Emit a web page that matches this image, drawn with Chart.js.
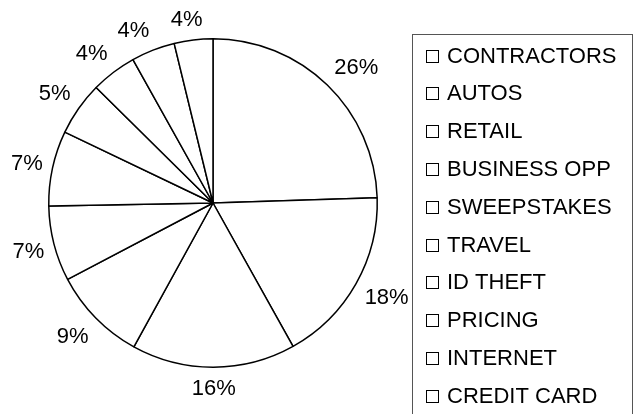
<!DOCTYPE html>
<html>
<head>
<meta charset="utf-8">
<script src="https://cdn.jsdelivr.net/npm/chart.js@4"></script>
<style>
  html, body { margin: 0; padding: 0; background: #fff; }
  #wrap { width: 641px; height: 414px; position: relative; }
</style>
</head>
<body>
<div id="wrap"><canvas id="chartPie"></canvas></div>
<script>
// categorias e valores (sentido horário a partir do topo)
const categories = ['CONTRACTORS', 'AUTOS', 'RETAIL', 'BUSINESS OPP', 'SWEEPSTAKES',
    'TRAVEL', 'ID THEFT', 'PRICING', 'INTERNET', 'CREDIT CARD'];
const shares = [24.5, 17.4, 16.1, 9.3, 7.4, 7.4, 5.3, 4.5, 4.3, 3.8];
const pctLabels = ['26%', '18%', '16%', '9%', '7%', '7%', '5%', '4%', '4%', '4%'];

const FONT = '22px "Liberation Sans", Arial, sans-serif';
const clamp = v => Math.max(-1, Math.min(1, v));

// rótulos de porcentagem fora das fatias
const outsideLabels = {
    id: 'outsideLabels',
    afterDatasetsDraw(chart) {
        const ctx = chart.ctx;
        const meta = chart.getDatasetMeta(0);
        ctx.save();
        ctx.font = FONT;
        ctx.fillStyle = '#000';
        ctx.textAlign = 'center';
        ctx.textBaseline = 'middle';
        meta.data.forEach((arc, i) => {
            const p = arc.getProps(['x', 'y', 'startAngle', 'endAngle', 'outerRadius'], true);
            const mid = (p.startAngle + p.endAngle) / 2;
            const dx = Math.cos(mid), dy = Math.sin(mid);
            const txt = pctLabels[i];
            const w = ctx.measureText(txt).width;
            const r = p.outerRadius + 10;
            const x = p.x + dx * r + clamp(dx * 3) * w / 2;
            const y = p.y + dy * r + clamp(dy * 1.5) * 11;
            ctx.fillText(txt, x, y + 1);
        });
        ctx.restore();
    }
};

// legenda com moldura, desenhada à mão
const boxLegend = {
    id: 'boxLegend',
    afterDraw(chart) {
        const ctx = chart.ctx;
        const left = 412.5, top = 34.5, right = 632.5;
        ctx.save();
        ctx.strokeStyle = '#555';
        ctx.lineWidth = 1;
        ctx.strokeRect(left, top, right - left, 400);
        ctx.font = FONT;
        ctx.textAlign = 'left';
        ctx.textBaseline = 'middle';
        categories.forEach((name, i) => {
            const y = 55.5 + i * 37.8;
            ctx.fillStyle = '#fff';
            ctx.fillRect(426.5, Math.round(y) - 5.5, 12, 12);
            ctx.strokeStyle = '#000';
            ctx.strokeRect(426.5, Math.round(y) - 5.5, 12, 12);
            ctx.fillStyle = '#000';
            ctx.fillText(name, 447, y + 1);
        });
        ctx.restore();
    }
};

new Chart(document.getElementById('chartPie'), {
    type: 'pie',
    data: {
        labels: categories,
        datasets: [{
            data: shares,
            backgroundColor: '#fff',
            borderColor: '#000',
            borderWidth: 1.5
        }]
    },
    options: {
        responsive: true,
        maintainAspectRatio: false,
        animation: false,
        layout: { padding: { left: 48, top: 38, right: 263, bottom: 46 } },
        plugins: {
            legend: { display: false },
            tooltip: { enabled: false }
        }
    },
    plugins: [outsideLabels, boxLegend]
});
</script>
</body>
</html>
